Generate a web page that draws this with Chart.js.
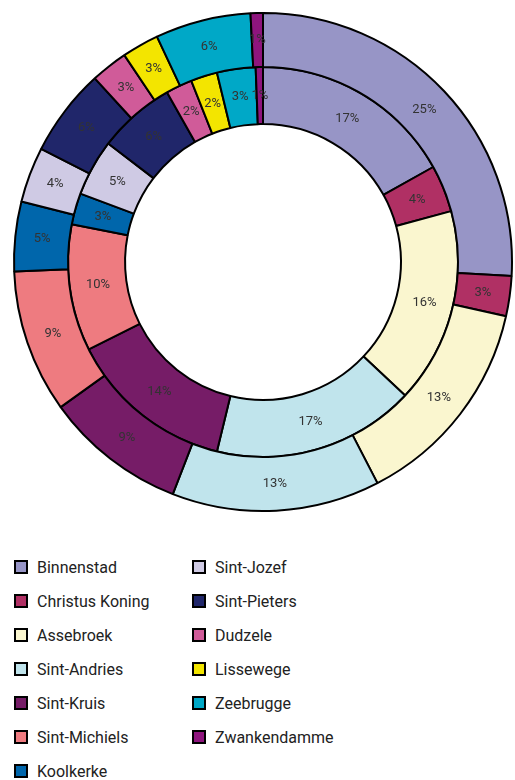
<!DOCTYPE html>
<html>
<head>
<meta charset="utf-8">
<script src="https://cdn.jsdelivr.net/npm/chart.js@4.4.1/dist/chart.umd.min.js"></script>
<style>
  html, body { margin: 0; padding: 0; background: #fff; }
  body { width: 515px; height: 780px; position: relative; overflow: hidden; font-family: Roboto, "Noto Sans", sans-serif; }
  #wrap { position: absolute; left: 0; top: 0; width: 515px; height: 525px; }
  #legend {
    position: absolute; left: 14px; top: 550px;
    display: grid; grid-auto-flow: column;
    grid-template-columns: 178px 200px; grid-template-rows: repeat(7, 34px);
  }
  .item { display: flex; align-items: center; font-size: 16px; color: #222; }
  .box { width: 10px; height: 10px; border: 2px solid #000; margin-right: 9px; }
</style>
</head>
<body>
<div id="wrap"><canvas id="chartRings"></canvas></div>
<div id="legend"></div>
<script>
/* ===== Double ring: share per district ===== */
const districts = ['Binnenstad', 'Christus Koning', 'Assebroek', 'Sint-Andries', 'Sint-Kruis',
  'Sint-Michiels', 'Koolkerke', 'Sint-Jozef', 'Sint-Pieters', 'Dudzele', 'Lissewege',
  'Zeebrugge', 'Zwankendamme'];

// slice sizes as drawn (outer ring, inner ring)
const outerValues = [25.9, 2.6, 13.9, 13.5, 9.2, 9.3, 4.5, 3.6, 5.7, 2.4, 2.4, 6.2, 0.8];
const innerValues = [16.9, 3.9, 16.2, 16.8, 13.8, 10.5, 2.6, 4.7, 6.4, 2.2, 2.2, 3.2, 0.6];

// printed percentages
const outerLabels = ['25%', '3%', '13%', '13%', '9%', '9%', '5%', '4%', '6%', '3%', '3%', '6%', '1%'];
const innerLabels = ['17%', '4%', '16%', '17%', '14%', '10%', '3%', '5%', '6%', '2%', '2%', '3%', '1%'];

const COLORS = ['#9795c6', '#b03064', '#faf6cf', '#c0e4ec', '#761c67', '#ee7b80', '#0066ab',
  '#cfcae4', '#20266a', '#d05b99', '#f3e500', '#00a8c7', '#8e157d'];

const sliceLabels = {
  id: 'sliceLabels',
  afterDatasetsDraw(chart) {
    const ctx = chart.ctx;
    ctx.save();
    ctx.font = '13px Roboto, sans-serif';
    ctx.fillStyle = '#333';
    ctx.textAlign = 'center';
    ctx.textBaseline = 'middle';
    chart.data.datasets.forEach((ds, i) => {
      chart.getDatasetMeta(i).data.forEach((arc, j) => {
        const p = arc.getCenterPoint();
        ctx.fillText(ds.texts[j], p.x, p.y);
      });
    });
    ctx.restore();
  }
};

new Chart(document.getElementById('chartRings'), {
  type: 'doughnut',
  data: {
    labels: districts,
    datasets: [
      { data: outerValues, texts: outerLabels, backgroundColor: COLORS, borderColor: '#000', borderWidth: 2, weight: 54 },
      { data: innerValues, texts: innerLabels, backgroundColor: COLORS, borderColor: '#000', borderWidth: 2, weight: 57 }
    ]
  },
  options: {
    responsive: true,
    maintainAspectRatio: false,
    animation: false,
    cutout: '55.4%',
    layout: { padding: { left: 13, right: 2, top: 12, bottom: 13 } },
    plugins: { legend: { display: false }, tooltip: { enabled: false } }
  },
  plugins: [sliceLabels]
});

// legend, two columns filled top to bottom
const legend = document.getElementById('legend');
districts.forEach((name, i) => {
  const item = document.createElement('div');
  item.className = 'item';
  item.innerHTML = `<span class="box" style="background:${COLORS[i]}"></span>${name}`;
  legend.appendChild(item);
});
</script>
</body>
</html>
